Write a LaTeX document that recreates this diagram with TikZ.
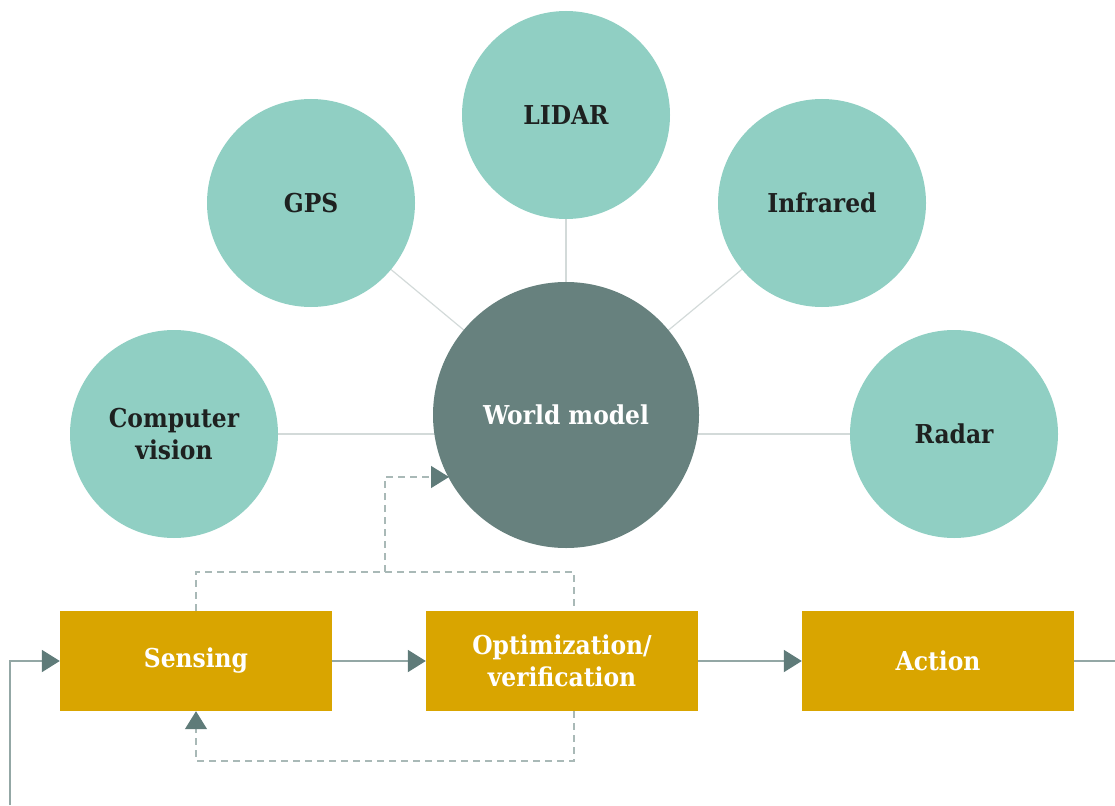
\documentclass[tikz,border=0pt]{standalone}
\usepackage{fontspec}
\setmainfont{DejaVu Serif Condensed}
\usetikzlibrary{arrows.meta}
\definecolor{teal1}{HTML}{90CFC3}
\definecolor{wm}{HTML}{67817E}
\definecolor{gold}{HTML}{D9A500}
\definecolor{tip}{HTML}{5F7B79}
\definecolor{arr}{HTML}{93A7A5}
\definecolor{spoke}{HTML}{D3DAD9}
\definecolor{dash}{HTML}{A9B9B7}
\definecolor{ink}{HTML}{1E2120}
\tikzset{
  sensor/.style={circle, fill=teal1, minimum size=208pt, inner sep=0pt, align=center, text=ink, font=\bfseries\fontsize{26}{32}\selectfont},
  world/.style={circle, fill=wm, minimum size=266pt, inner sep=0pt, align=center, text=white, font=\bfseries\fontsize{26}{32}\selectfont},
  stepbox/.style={rectangle, fill=gold, minimum width=272pt, minimum height=100pt, inner sep=0pt, align=center, text=white, font=\bfseries\fontsize{26}{32}\selectfont},
  spokeline/.style={draw=spoke, line width=1.2pt},
  flow/.style={draw=arr, line width=2pt, -{Triangle[length=18pt, width=22pt, color=tip]}},
  plainflow/.style={draw=arr, line width=2pt},
  fb/.style={draw=dash, line width=1.3pt, dash pattern=on 7pt off 5pt},
  fbarrow/.style={fb, -{Triangle[length=18pt, width=22pt, color=tip, sep=0pt]}},
}
\begin{document}
\begin{tikzpicture}[x=1pt, y=-1pt]
\useasboundingbox (0,0) rectangle (1115,805);
% spokes
\coordinate (wmc) at (566,415);
\draw[spokeline] (311,203) -- (wmc);
\draw[spokeline] (822,203) -- (wmc);
\draw[spokeline] (566,115) -- (wmc);
\draw[spokeline] (174,434) -- (954,434);
% circles
\node[world] (wm) at (wmc) {World model};
\node[sensor] (lidar) at (566,115) {LIDAR};
\node[sensor] (gps) at (311,203) {GPS};
\node[sensor] (ir) at (822,203) {Infrared};
\node[sensor] (cv) at (174,434) {Computer\\vision};
\node[sensor] (radar) at (954,434) {Radar};
% boxes
\node[stepbox] (sense) at (196,661) {Sensing};
\node[stepbox] (opt) at (562,661) {Optimization/\\verification};
\node[stepbox] (act) at (938,661) {Action};
% flow
\coordinate (start) at (10,805);
\coordinate (endr) at (1115,661);
\draw[flow] (start) |- (sense.west);
\draw[flow] (sense) -- (opt);
\draw[flow] (opt) -- (act);
\draw[plainflow] (act.east) -- (endr);
% dashed feedback
\coordinate (t1) at (196,572);
\coordinate (t2) at (574,572);
\coordinate (t3) at (385,572);
\coordinate (t4) at (385,477);
\coordinate (t5) at (449,477);
\draw[fb] (sense.north) -- (t1) -- (t2) -- (t2 |- opt.north);
\draw[fbarrow] (t3) -- (t4) -- (t5);
\coordinate (b1) at (574,761);
\coordinate (b2) at (196,761);
\draw[fbarrow] (b1 |- opt.south) -- (b1) -- (b2) -- (sense.south);
\end{tikzpicture}
\end{document}
